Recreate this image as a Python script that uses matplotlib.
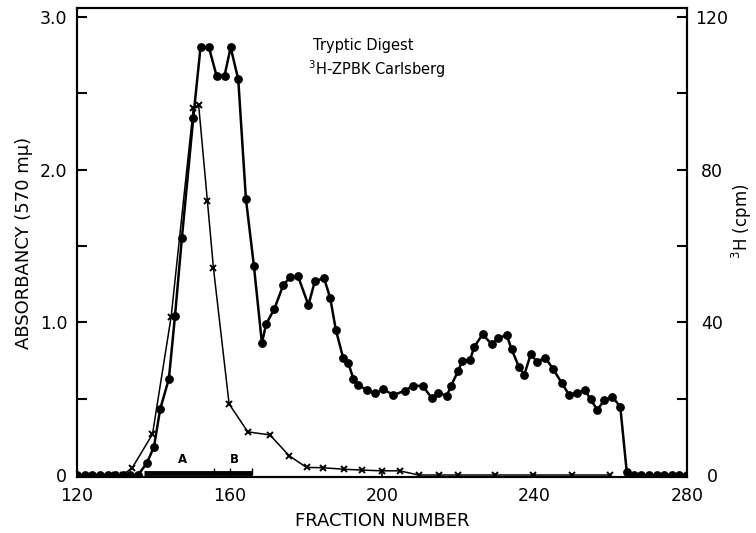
import matplotlib
matplotlib.use('Agg')
import matplotlib.pyplot as plt

# absorbancy at 570 mu (filled circles)
abs_frac = [120, 122, 124, 126, 128, 130, 132, 134, 136,
            138.3, 140.2, 141.8, 144.1, 145.7, 147.5, 150.5, 152.4, 154.6, 156.6,
            158.7, 160.3, 162.3, 164.3, 166.4, 168.5, 169.6, 171.8, 174.1, 175.9,
            178.0, 180.7, 182.4, 184.8, 186.4, 187.9, 189.8, 191.2, 192.5, 193.8,
            196.0, 198.2, 200.3, 203.0, 206.0, 208.1, 210.7, 213.0, 214.8, 217.0,
            218.1, 220.0, 221.1, 223.1, 224.2, 226.4, 228.8, 230.5, 232.7, 234.0,
            235.9, 237.3, 239.0, 240.7, 242.8, 244.9, 247.1, 249.1, 251.2, 253.2,
            254.7, 256.5, 258.3, 260.4, 262.5, 264.2,
            266, 268, 270, 272, 274, 276, 278, 280]
absorbancy = [0, 0, 0, 0, 0, 0, 0, 0, 0,
              0.077, 0.185, 0.43, 0.63, 1.04, 1.55, 2.34, 2.80, 2.80, 2.615,
              2.615, 2.80, 2.59, 1.81, 1.37, 0.864, 0.987, 1.09, 1.244, 1.295,
              1.30, 1.113, 1.27, 1.288, 1.161, 0.95, 0.768, 0.731, 0.629, 0.589,
              0.557, 0.535, 0.561, 0.524, 0.552, 0.585, 0.583, 0.506, 0.539, 0.519,
              0.583, 0.683, 0.749, 0.753, 0.84, 0.921, 0.856, 0.895, 0.917, 0.823,
              0.709, 0.655, 0.79, 0.742, 0.768, 0.694, 0.604, 0.524, 0.539, 0.557,
              0.496, 0.426, 0.491, 0.513, 0.447, 0.02,
              0, 0, 0, 0, 0, 0, 0, 0]

# 3H counts (crosses)
h3_frac = [130, 132, 134.5, 139.8, 144.7, 150.5, 151.9, 154.2, 155.8, 159.9,
           164.8, 170.6, 175.7, 180.2, 184.6, 190.1, 194.7, 199.9, 204.6, 209.6,
           214.9, 219.9, 229.6, 239.6, 249.9, 259.8]
h3_cpm = [0, 0, 1.9, 10.7, 41.5, 96, 97, 71.8, 54.1, 18.6,
          11.3, 10.5, 5.0, 2.0, 1.9, 1.5, 1.3, 1.1, 1.1, 0,
          0, 0, 0, 0, 0, 0]

# pooled fractions A and B
bar_start, bar_end = 137.6, 166.0
bar_ticks = [156, 160, 166]
pool_labels = ['A', 'B']
pool_label_x = [147.6, 161.3]

plt.rcParams['font.family'] = ['DejaVu Sans']

fig = plt.figure(figsize=(7.56, 5.33), dpi=100)
ax = fig.add_axes([77 / 756, 56 / 533, 610 / 756, 469 / 533])

ax.plot(abs_frac, absorbancy, '-o', color='black', lw=1.8, ms=5.3)
ax.set_xlim(120, 280)
ax.set_ylim(-0.013, 3.058)

# the A/B bar on the baseline
ax.plot([bar_start, bar_end], [0.012, 0.012], color='black', lw=3.5,
        solid_capstyle='butt')
ax.vlines(bar_ticks, 0, 0.045, color='black', lw=1)
for lab, xl in zip(pool_labels, pool_label_x):
    ax.text(xl, 0.06, lab, ha='center', va='bottom', fontsize=8.5,
            fontweight='bold')

ax2 = ax.twinx()
ax2.plot(h3_frac, h3_cpm, '-x', color='black', lw=1.1, ms=4.2, mew=1.4)
ax2.set_ylim(-0.013 * 40, 3.058 * 40)

#ticks
ax.set_xticks([120, 160, 200, 240, 280])
ax.set_yticks([0, 0.5, 1.0, 1.5, 2.0, 2.5, 3.0])
ax.set_yticklabels(['0', '', '1.0', '', '2.0', '', '3.0'])
ax2.set_yticks([0, 20, 40, 60, 80, 100, 120])
ax2.set_yticklabels(['0', '', '40', '', '80', '', '120'])
ax.tick_params(axis='x', direction='in', length=3, width=1.2, pad=7,
               labelsize=12.5)
ax.tick_params(axis='y', direction='in', length=7, width=1.5, pad=7,
               labelsize=12.5)
ax2.tick_params(axis='y', direction='in', length=7, width=1.5, pad=18,
                labelsize=12.5)
for lab in ax2.get_yticklabels():
    lab.set_horizontalalignment('center')

for a in (ax, ax2):
    for sp in a.spines.values():
        sp.set_linewidth(1.5)

ax.set_xlabel('FRACTION NUMBER', fontsize=13)
ax.xaxis.set_label_coords(0.5, -0.075)
ax.set_ylabel('ABSORBANCY (570 m\u03bc)', fontsize=13)
ax.yaxis.set_label_coords(-0.072, 0.5)
ax.text(1.09, 0.545, '$^3$H (cpm)', transform=ax.transAxes, rotation=90,
        ha='center', va='center', fontsize=12)

ax.text(182.0, 2.783, 'Tryptic Digest', fontsize=10.5, ha='left',
        va='baseline')
ax.text(180.7, 2.62, '$^3$H-ZPBK Carlsberg', fontsize=10.5, ha='left',
        va='baseline')

fig.savefig('out.png', dpi=100)
